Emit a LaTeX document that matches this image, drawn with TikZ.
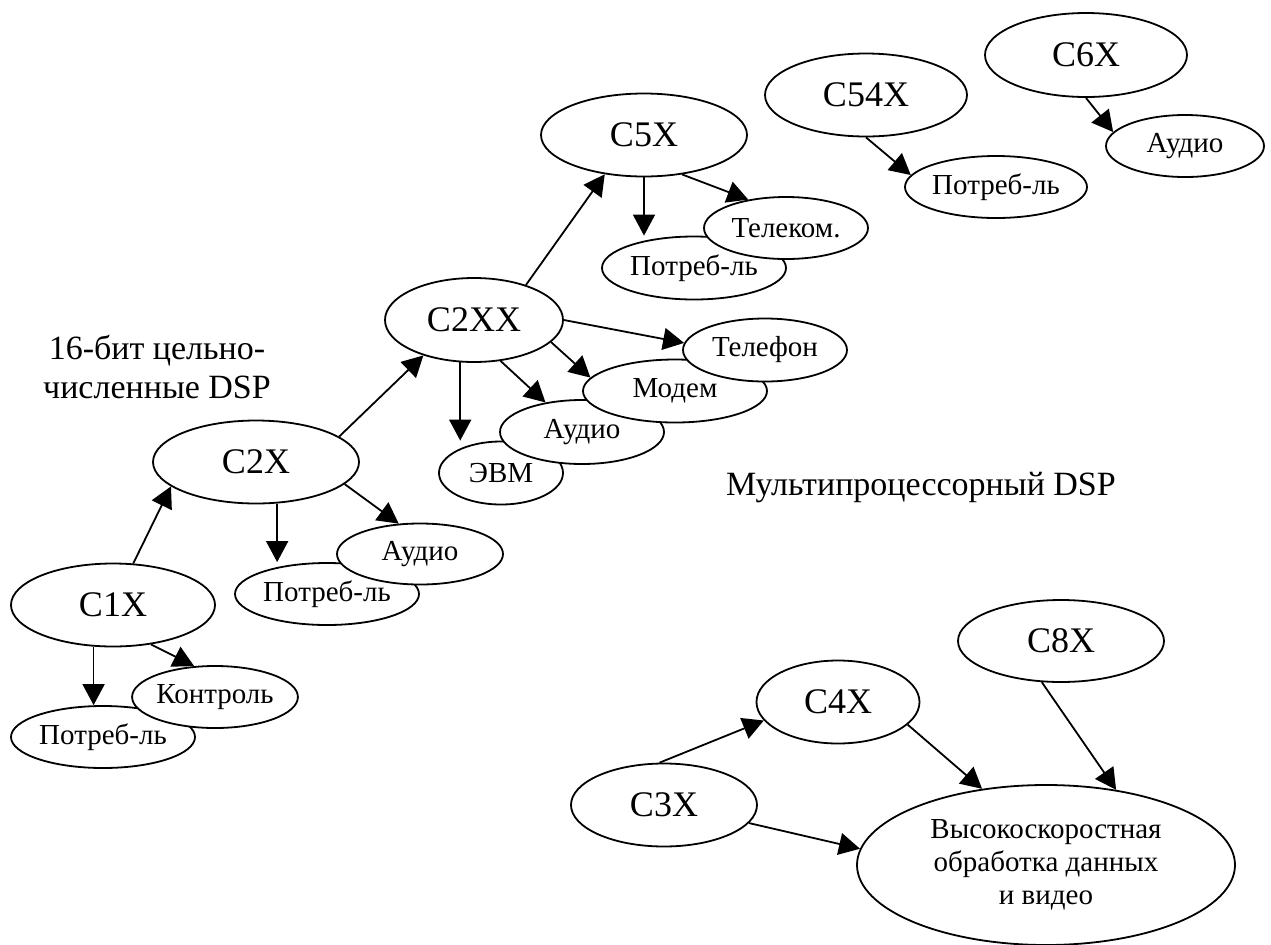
\documentclass[tikz,border=0pt]{standalone}
\usepackage{fontspec}
\setmainfont{Liberation Serif}
\usetikzlibrary{shapes.geometric,arrows.meta}

\begin{document}
\begin{tikzpicture}[x=0.5pt,y=-0.5pt,line width=0.9pt,
  chip/.style={ellipse,draw,fill=white,inner sep=0pt,font=\fontsize{18}{20}\selectfont},
  app/.style={ellipse,draw,fill=white,inner sep=0pt,font=\fontsize{14.5}{16.5}\selectfont},
  arr/.style={-{Triangle[length=10.5pt,width=11pt]}}]
\useasboundingbox (0,0) rectangle (1271,944);
% 16-bit line
\node[chip,minimum width=102pt,minimum height=41.5pt] (c1x) at (113,605) {C1X};
\node[app,minimum width=92pt,minimum height=31pt] (potr1) at (103,737) {Потреб-ль};
\node[app,minimum width=82pt,minimum height=31pt] (kontr) at (215,697) {Контроль};
\node[chip,minimum width=103pt,minimum height=41.5pt] (c2x) at (256,462) {C2X};
\node[app,minimum width=92pt,minimum height=31pt] (potr2) at (327,594) {Потреб-ль};
\node[app,minimum width=83pt,minimum height=30.5pt] (audio2) at (420,554) {Аудио};
\node[chip,minimum width=89pt,minimum height=42pt] (c2xx) at (474,320) {C2XX};
\node[app,minimum width=62pt,minimum height=31.5pt] (evm) at (501,473) {ЭВМ};
\node[app,minimum width=82pt,minimum height=32pt] (audio3) at (582,432) {Аудио};
\node[app,minimum width=92pt,minimum height=31.5pt] (modem) at (675,391) {Модем};
\node[app,minimum width=82pt,minimum height=31.5pt] (phone) at (765,350) {Телефон};
\node[chip,minimum width=103pt,minimum height=41.5pt] (c5x) at (644,135) {C5X};
\node[app,minimum width=92pt,minimum height=31.5pt] (potr3) at (694,268) {Потреб-ль};
\node[app,minimum width=82pt,minimum height=31pt] (telecom) at (786,228) {Телеком.};
\node[chip,minimum width=101pt,minimum height=41.5pt] (c54x) at (866,95) {C54X};
\node[app,minimum width=91pt,minimum height=31pt] (potr4) at (996,187) {Потреб-ль};
\node[chip,minimum width=101pt,minimum height=42pt] (c6x) at (1086,55) {C6X};
\node[app,minimum width=79pt,minimum height=31pt] (audio4) at (1185,146) {Аудио};
% multiprocessor line
\node[chip,minimum width=93pt,minimum height=41.5pt] (c3x) at (664,805) {C3X};
\node[chip,minimum width=81.5pt,minimum height=41.5pt] (c4x) at (838,702) {C4X};
\node[chip,minimum width=103pt,minimum height=41pt] (c8x) at (1061,641) {C8X};
\node[app,align=center,minimum width=189pt,minimum height=80pt] (hispeed) at (1046,865) {Высокоскоростная\\обработка данных\\и видео};
% labels
\node[font=\fontsize{17}{19.5}\selectfont,align=center] (int16) at (157,367) {16-бит цельно-\\численные DSP};
\node[font=\fontsize{17}{19.5}\selectfont] (multi) at (921,488) {Мультипроцессорный DSP};

\draw[arr] (c1x.64) -- (c2x.196);
\draw[arr] (c1x.-115) -- (c1x.-115 |- potr1.north);
\draw[arr] (c1x.-46) -- (kontr.124);
\draw[arr] (c2x.-63) -- (c2x.-63 |- potr2.north);
\draw[arr] (c2x.-14) -- (audio2.125);
\draw[arr] (c2x.17) -- (c2xx.215);
\draw[arr] (c2xx.34) -- (c5x.225);
\draw[arr] (c2xx.-108) -- (c2xx.-108 |- evm.north);
\draw[arr] (c2xx.-57) -- (audio3.141);
\draw[arr] (c2xx.-16) -- (modem.171);
\draw[arr] (c2xx.east) -- (phone.175);
\draw[arr] (c5x.south) -- (c5x.south |- potr3.north);
\draw[arr] (c5x.-46) -- (telecom.143);
\draw[arr] (c54x.south) -- (potr4.172);
\draw[arr] (c6x.south) -- (audio4.169);
\draw[arr] (c3x.96) -- (c4x.194);
\draw[arr] (c3x.-12) -- (hispeed.175);
\draw[arr] (c4x.-18) -- (hispeed.130);
\draw[arr] (c8x.-115) -- (hispeed.47);
\end{tikzpicture}
\end{document}
